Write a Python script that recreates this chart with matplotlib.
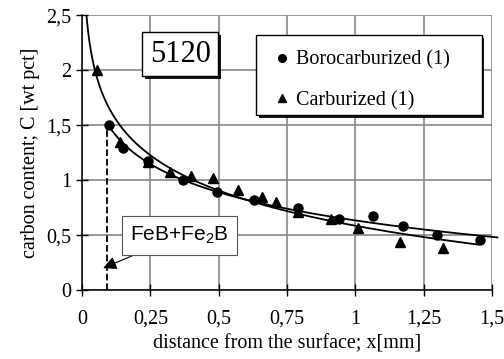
import numpy as np
import matplotlib
matplotlib.use("Agg")
from matplotlib import pyplot as plt
from matplotlib import patheffects
from matplotlib.patches import Rectangle

# Данные
boro_x = [0.10, 0.15, 0.24, 0.37, 0.495, 0.63, 0.79, 0.94, 1.065, 1.175, 1.30, 1.455]
boro_y = [1.50, 1.29, 1.17, 1.00, 0.89, 0.82, 0.745, 0.645, 0.67, 0.58, 0.50, 0.455]
carb_x = [0.055, 0.14, 0.24, 0.32, 0.40, 0.48, 0.57, 0.66, 0.71, 0.79, 0.91, 1.01, 1.165, 1.32]
carb_y = [2.00, 1.35, 1.16, 1.07, 1.04, 1.02, 0.91, 0.85, 0.80, 0.71, 0.645, 0.565, 0.44, 0.38]

x_ticks = [0, 0.25, 0.5, 0.75, 1, 1.25, 1.5]
x_labels = ["0", "0,25", "0,5", "0,75", "1", "1,25", "1,5"]
y_ticks = [0, 0.5, 1, 1.5, 2, 2.5]
y_labels = ["0", "0,5", "1", "1,5", "2", "2,5"]

# граница слоя FeB+Fe2B
layer_depth = 0.09
layer_top = 1.5
layer_point = (0.077, 0.2)

plt.rcParams['font.family'] = ['Liberation Serif', 'DejaVu Serif']
plt.rcParams['mathtext.fontset'] = 'custom'
plt.rcParams['mathtext.rm'] = 'Liberation Sans'

fig = plt.figure(figsize=(5.04, 3.59), dpi=100)
ax = fig.add_axes([0.163, 0.192, 0.813, 0.766])

# логарифмические линии тренда
def log_trend(x, y, x_from, x_to):
    b, a = np.polyfit(np.log(x), y, 1)
    xs = np.geomspace(x_from, x_to, 200)
    return xs, a + b * np.log(xs)

xs, ys = log_trend(carb_x, carb_y, 0.01, 1.45)
ax.plot(xs, ys, color='black', lw=1.3)
xs, ys = log_trend(boro_x, boro_y, boro_x[0], 1.52)
ax.plot(xs, ys, color='black', lw=1.3, clip_on=False)

ax.plot(boro_x, boro_y, 'o', color='black', ms=6.5, label='Borocarburized (1)')
ax.plot(carb_x, carb_y, '^', color='black', ms=6.5, label='Carburized (1)')

ax.plot([layer_depth, layer_depth], [0, layer_top], '--', color='black', lw=1.3)

ax.set_xlim(0, 1.5)
ax.set_ylim(0, 2.5)
ax.set_xticks(x_ticks)
ax.set_xticklabels(x_labels)
ax.set_yticks(y_ticks)
ax.set_yticklabels(y_labels)
ax.tick_params(direction='inout', length=8, labelsize=14.5, width=1)
ax.tick_params(axis='x', pad=10)
ax.tick_params(axis='y', pad=4)
ax.grid(True, color='#888888', lw=1.2)
ax.set_axisbelow(True)
for s in ['top', 'right']:
    ax.spines[s].set_visible(False)
ax.spines['left'].set_linewidth(1.1)
ax.spines['bottom'].set_linewidth(1.1)

ax.set_xlabel("distance from the surface; x[mm]", fontsize=14.5, labelpad=4)
ax.set_ylabel("carbon content; C [wt pct]", fontsize=14.5, labelpad=4)

# рамка легенды с тенью
shadow = patheffects.SimplePatchShadow(offset=(2, -2), shadow_rgbFace='black', alpha=0.9)
frame = Rectangle((0.424, 0.636), 0.551, 0.291, transform=ax.transAxes,
                  fc='white', ec='black', lw=1.0, zorder=4)
frame.set_path_effects([shadow, patheffects.Normal()])
ax.add_patch(frame)

leg = ax.legend(loc='upper left', bbox_to_anchor=(0.424, 0.922),
                borderaxespad=0, fontsize=14.5, frameon=False,
                handlelength=1.2, handletextpad=0.1, labelspacing=1.05,
                borderpad=0.7, markerscale=0.85)
leg.set_zorder(5)

t = ax.text(0.359, 2.145, "5120", fontsize=22, ha='center', va='center',
            bbox=dict(boxstyle='square,pad=0.25', fc='white', ec='black', lw=1.0))
t.get_bbox_patch().set_path_effects([shadow, patheffects.Normal()])

ax.annotate("FeB+Fe$_2$B", xy=layer_point, xytext=(0.357, 0.495),
            fontsize=15, family='Liberation Sans', ha='center', va='center',
            bbox=dict(boxstyle='square,pad=0.4', fc='white', ec='#555555', lw=0.8),
            arrowprops=dict(arrowstyle='-|>', color='black', lw=0.8,
                            mutation_scale=20, shrinkA=0, shrinkB=0))

fig.savefig("out.png", dpi=100)
